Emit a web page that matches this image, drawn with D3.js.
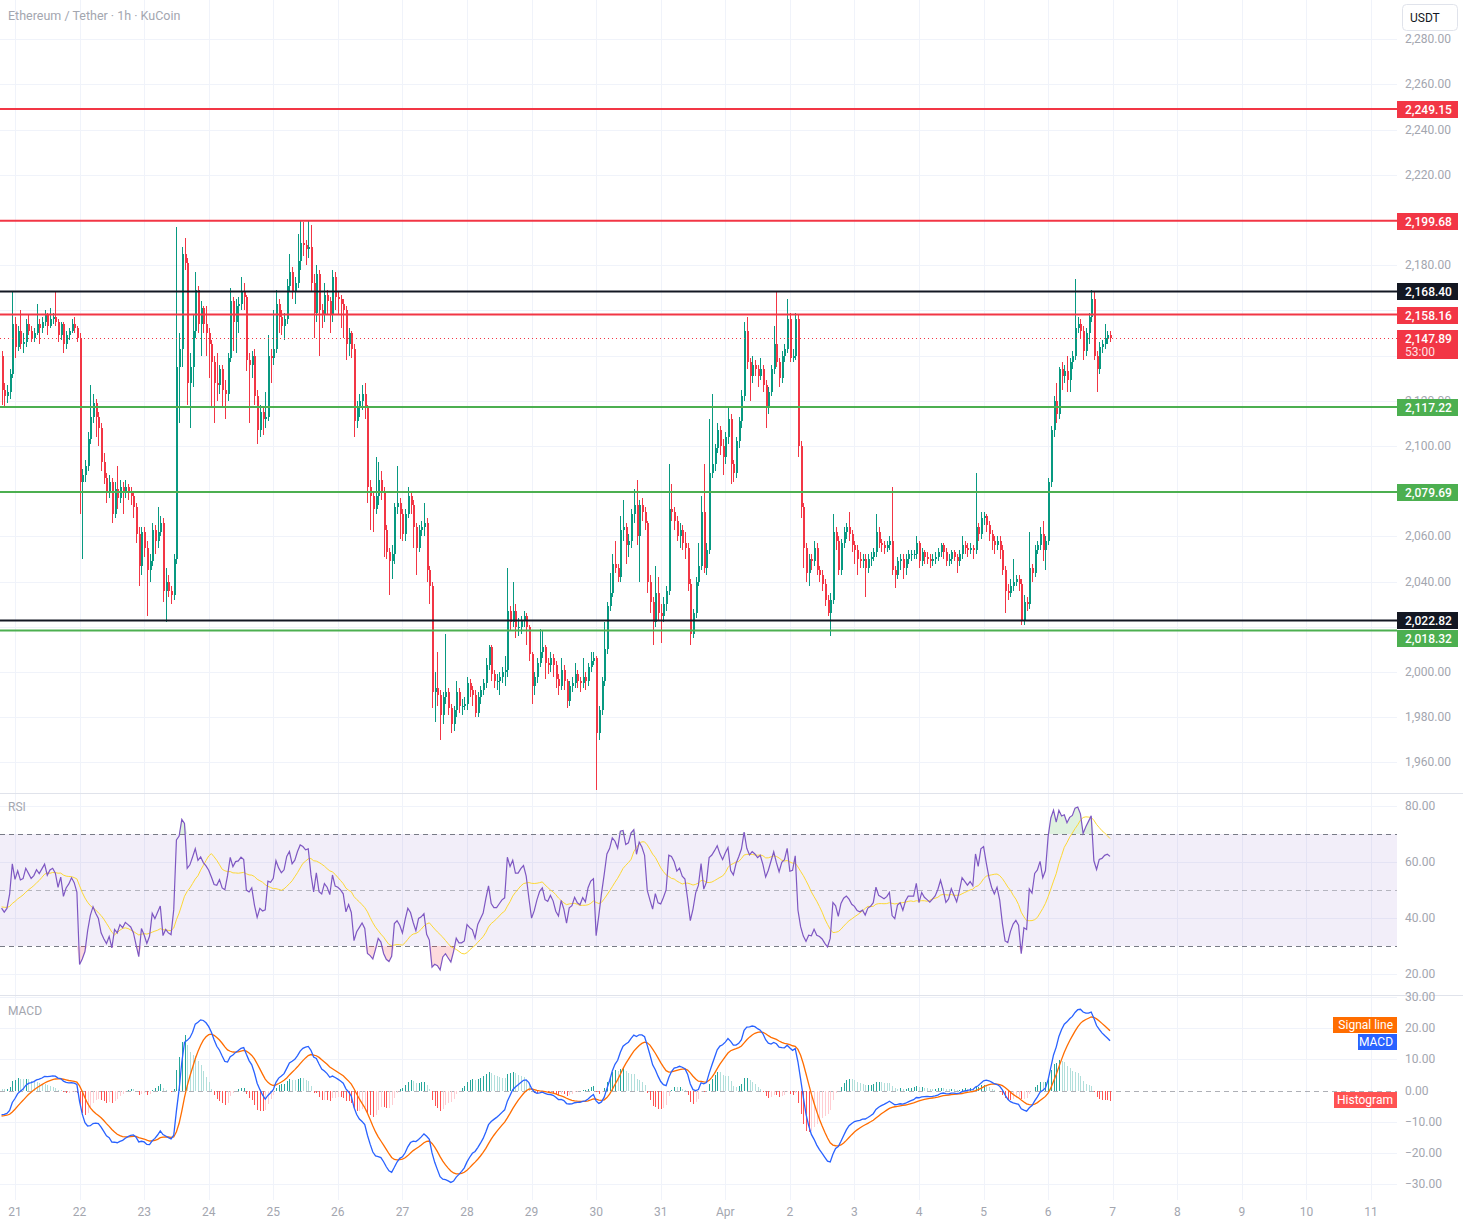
<!DOCTYPE html>
<html lang="en">
<head>
<meta charset="utf-8">
<title>Ethereum / Tether 1h</title>
<script src="https://cdn.jsdelivr.net/npm/d3@7"></script>
<style>
  body { margin: 0; background: #ffffff; }
  svg { display: block; font-family: Roboto, "Noto Sans", "DejaVu Sans", sans-serif; }
</style>
</head>
<body>
<script>
// ---------- data (hourly candles, first one = Mar 20 19:00) ----------
const firstOpen = 2140;
const closes = [
  2125,2122,2124,2132,2154,2144,2151,2145,2146,2154, 2151,2148,2150,2154,2152,2155,2158,2153,2156,2157,
  2155,2149,2154,2145,2149,2151,2154,2152,2148,2084, 2087,2091,2103,2113,2119,2113,2108,2093,2086,2080,
  2084,2070,2081,2077,2082,2079,2082,2080,2078,2073, 2061,2047,2062,2055,2045,2049,2063,2058,2062,2066,
  2036,2040,2036,2034,2050,2135,2143,2185,2181,2128, 2135,2151,2169,2154,2161,2154,2150,2145,2137,2128,
  2127,2134,2125,2123,2139,2164,2155,2162,2163,2168, 2166,2138,2136,2140,2122,2107,2115,2112,2113,2140,
  2139,2143,2163,2157,2153,2156,2171,2177,2168,2172, 2182,2190,2189,2187,2188,2172,2159,2176,2160,2158,
  2167,2164,2158,2175,2166,2165,2163,2160,2145,2150, 2143,2111,2117,2120,2123,2117,2082,2078,2072,2078,
  2085,2080,2063,2053,2049,2052,2073,2075,2070,2061, 2070,2078,2074,2064,2055,2063,2064,2066,2045,2038,
  1991,1993,1990,1981,1989,1991,1984,1977,1983,1991, 1985,1985,1986,1995,1992,1990,1982,1989,1992,1995,
  2003,2011,1999,1996,1996,1998,2000,2001,2027,2022, 2027,2020,2020,2023,2025,2020,2008,1994,1998,2004,
  2009,2011,2004,2003,2006,2003,1997,1994,2001,1996, 1987,1994,1995,1999,1996,1995,1998,1996,2002,2005,
  2006,1973,1983,1996,2010,2029,2035,2048,2046,2042, 2063,2064,2056,2058,2070,2074,2060,2074,2071,2066,
  2040,2031,2022,2035,2026,2025,2030,2036,2072,2071, 2067,2060,2063,2057,2055,2039,2017,2026,2040,2047,
  2071,2046,2054,2088,2092,2099,2107,2100,2095,2104, 2112,2092,2088,2102,2111,2122,2151,2137,2131,2136,
  2134,2131,2134,2127,2117,2124,2134,2145,2137,2130, 2140,2143,2156,2139,2140,2156,2100,2073,2055,2044,
  2050,2049,2055,2045,2043,2039,2032,2026,2032,2062, 2058,2045,2057,2062,2064,2061,2056,2054,2050,2049,
  2050,2046,2050,2051,2053,2062,2057,2056,2055,2056, 2058,2045,2043,2049,2050,2046,2050,2052,2052,2052,
  2057,2049,2053,2051,2050,2049,2050,2051,2053,2056, 2053,2049,2050,2053,2051,2049,2052,2056,2055,2054,
  2055,2054,2064,2061,2068,2069,2065,2061,2058,2056, 2058,2054,2045,2036,2035,2038,2040,2041,2039,2023,
  2031,2030,2046,2044,2054,2056,2061,2054,2058,2084, 2107,2120,2114,2134,2131,2133,2129,2137,2140,2152,
  2154,2151,2142,2150,2157,2165,2140,2134,2144,2145, 2148,2149,2147.89
];
const highs = [
  2142,2128,2127,2134,2168,2157,2153,2160,2150,2156, 2158,2153,2152,2163,2156,2157,2160,2159,2161,2159,
  2168,2156,2155,2155,2151,2152,2156,2157,2153,2150, 2090,2094,2106,2127,2123,2121,2115,2110,2097,2088,
  2087,2086,2084,2091,2085,2084,2085,2083,2082,2080, 2075,2064,2064,2064,2058,2052,2066,2065,2073,2069,
  2068,2046,2043,2038,2052,2197,2150,2188,2192,2183, 2141,2158,2177,2171,2164,2162,2162,2152,2147,2140,
  2141,2136,2136,2129,2141,2170,2166,2165,2166,2175, 2172,2167,2141,2142,2143,2125,2118,2117,2124,2149,
  2143,2160,2169,2165,2160,2159,2174,2185,2179,2175, 2194,2200,2199,2191,2200,2198,2176,2180,2178,2163,
  2172,2169,2166,2178,2177,2168,2167,2165,2162,2152, 2151,2145,2120,2123,2127,2128,2118,2085,2080,2095,
  2093,2089,2082,2065,2055,2056,2075,2091,2077,2072, 2072,2082,2080,2076,2066,2065,2067,2075,2068,2047,
  2040,2000,2009,1992,1991,2017,1993,1986,1985,1996, 1993,1988,1989,1998,1997,1994,1992,1991,1994,1997,
  2006,2012,2012,2001,1999,2000,2002,2007,2046,2029, 2040,2030,2024,2025,2027,2026,2021,2009,2000,2006,
  2019,2018,2012,2006,2009,2008,2005,1999,2006,2003, 1997,1996,1998,2004,2001,1998,2006,2000,2004,2009,
  2009,2007,1985,1998,2022,2031,2044,2052,2058,2048, 2069,2076,2066,2061,2072,2081,2085,2076,2077,2073,
  2067,2043,2033,2047,2042,2030,2033,2038,2092,2083, 2073,2069,2066,2065,2062,2057,2041,2028,2042,2057,
  2078,2092,2057,2112,2123,2101,2110,2109,2103,2106, 2117,2114,2094,2104,2113,2125,2155,2157,2139,2140,
  2138,2136,2139,2136,2129,2126,2136,2153,2168,2139, 2142,2145,2165,2159,2143,2159,2158,2102,2075,2057,
  2052,2052,2058,2057,2047,2045,2041,2034,2035,2070, 2064,2060,2059,2064,2066,2071,2063,2058,2056,2053,
  2052,2052,2052,2053,2055,2070,2064,2059,2058,2058, 2060,2082,2047,2051,2052,2052,2052,2054,2054,2054,
  2060,2058,2055,2054,2053,2052,2052,2053,2055,2057, 2057,2055,2052,2054,2054,2052,2054,2060,2058,2057,
  2057,2056,2088,2066,2071,2071,2070,2067,2063,2060, 2060,2060,2056,2047,2039,2041,2050,2043,2043,2041,
  2034,2033,2062,2048,2056,2058,2064,2067,2060,2086, 2109,2122,2128,2135,2137,2136,2140,2139,2142,2174,
  2157,2156,2153,2152,2159,2169,2168,2142,2146,2147, 2154,2151,2151
];
const lows = [
  2118,2117,2119,2121,2130,2139,2142,2143,2141,2144, 2149,2146,2146,2149,2145,2150,2153,2149,2152,2154,
  2153,2146,2147,2141,2143,2147,2150,2150,2146,2070, 2050,2084,2089,2101,2110,2104,2100,2089,2083,2075,
  2077,2066,2068,2072,2075,2070,2077,2076,2074,2068, 2057,2038,2043,2051,2025,2040,2047,2052,2055,2060,
  2031,2022,2033,2030,2032,2048,2110,2135,2178,2118, 2108,2126,2148,2150,2140,2150,2140,2130,2117,2110,
  2120,2123,2117,2112,2120,2137,2142,2141,2150,2160, 2160,2133,2110,2130,2118,2101,2104,2105,2108,2111,
  2128,2136,2141,2150,2149,2147,2154,2168,2165,2163, 2170,2178,2184,2180,2183,2168,2148,2155,2140,2152,
  2155,2158,2150,2155,2160,2158,2152,2148,2138,2140, 2139,2104,2108,2113,2116,2112,2075,2063,2062,2070,
  2074,2076,2051,2050,2034,2041,2048,2070,2059,2058, 2058,2068,2070,2055,2043,2053,2060,2060,2040,2030,
  1984,1978,1985,1970,1977,1986,1981,1973,1974,1980, 1982,1981,1983,1983,1989,1985,1980,1980,1986,1990,
  1993,2001,1996,1993,1992,1990,1995,1994,1998,2018, 2020,2015,2016,2017,2020,2012,2005,1986,1990,1995,
  2002,2006,1997,1999,2000,1998,1993,1990,1992,1992, 1984,1985,1991,1993,1993,1991,1993,1992,1994,2000,
  2003,1948,1970,1981,1994,2008,2027,2033,2044,2040, 2040,2058,2048,2051,2055,2066,2056,2040,2067,2063,
  2035,2026,2012,2020,2023,2013,2022,2027,2034,2067, 2063,2058,2055,2054,2050,2036,2012,2015,2024,2038,
  2045,2044,2043,2052,2086,2089,2097,2096,2087,2092, 2101,2083,2084,2086,2099,2108,2120,2134,2120,2128,
  2131,2126,2129,2124,2108,2114,2122,2132,2135,2126, 2128,2137,2141,2137,2137,2138,2095,2068,2046,2040,
  2038,2045,2047,2043,2040,2036,2029,2025,2016,2030, 2054,2043,2043,2055,2059,2058,2053,2048,2043,2046,
  2046,2033,2044,2047,2049,2051,2055,2053,2052,2053, 2054,2043,2037,2041,2045,2041,2043,2048,2049,2050,
  2050,2046,2047,2048,2048,2046,2047,2048,2049,2051, 2050,2047,2047,2048,2049,2044,2047,2050,2052,2051,
  2052,2050,2052,2058,2059,2065,2062,2058,2054,2052, 2054,2050,2043,2026,2032,2033,2036,2038,2036,2021,
  2021,2027,2028,2040,2042,2052,2054,2049,2045,2056, 2082,2104,2110,2112,2125,2128,2124,2124,2134,2138,
  2150,2148,2138,2140,2145,2155,2138,2124,2132,2141, 2143,2145,2146
];

// horizontal levels drawn on the chart
const levelPrices = [2249.15, 2199.68, 2168.40, 2158.16, 2117.22, 2079.69, 2022.82, 2018.32];
const levelKinds  = ["red", "red", "black", "red", "green", "green", "black", "green"];

const priceTicks = [1960, 1980, 2000, 2020, 2040, 2060, 2080, 2100, 2120, 2140, 2160, 2180, 2200, 2220, 2240, 2260, 2280];
const rsiTicks = [20, 40, 60, 80];
const macdTicks = [-30, -20, -10, 0, 10, 20, 30];
const dayLabels = ["21","22","23","24","25","26","27","28","29","30","31","Apr","2","3","4","5","6","7","8","9","10","11"];
const countdown = "53:00";

// ---------- layout ----------
const W = 1463, H = 1226;
const plotR = 1397;
const mainTop = 0, mainBot = 793;
const rsiTop = 793, rsiBot = 995;
const macdTop = 995, macdBot = 1200;

const colUp = "#089981", colDn = "#F23645";
const levelColor = { red: "#F23645", black: "#131722", green: "#4CAF50" };
const axisText = "#A3A6AF";
const gridCol = "#F0F3FA";

const hour = 3600e3;
const t0 = Date.UTC(2026, 2, 20, 19);
const opens = closes.map((c, i) => i === 0 ? firstOpen : closes[i - 1]);
const candles = closes.map((c, i) => ({
  t: new Date(t0 + i * hour),
  o: opens[i], c: c,
  h: Math.max(highs[i], opens[i], c),
  l: Math.min(lows[i], opens[i], c)
}));

// ---------- indicators ----------
// RSI 14 (Wilder), seeded from the level read at the left edge
let ag = 3.2, al = 3.0;
const rsi = candles.map(d => {
  const ch = d.c - d.o;
  ag = (ag * 13 + Math.max(ch, 0)) / 14;
  al = (al * 13 + Math.max(-ch, 0)) / 14;
  return 100 - 100 / (1 + ag / al);
});
const rsiSeed = 44;
const rsiMa = rsi.map((v, i) => {
  let s = 0;
  for (let k = i - 13; k <= i; k++) s += k < 0 ? rsiSeed : rsi[k];
  return s / 14;
});

// MACD 12 26 9, seeded from the values at the left edge
let e12 = 2129, e26 = 2137, sig = -8.3;
const macd = [], signal = [], hist = [];
candles.forEach(d => {
  e12 += (2 / 13) * (d.c - e12);
  e26 += (2 / 27) * (d.c - e26);
  const m = e12 - e26;
  sig += 0.2 * (m - sig);
  macd.push(m); signal.push(sig); hist.push(m - sig);
});

// ---------- scales ----------
const x = d3.scaleUtc()
  .domain([new Date(Date.UTC(2026, 2, 21)), new Date(Date.UTC(2026, 3, 11))])
  .range([15, 1371]);
const y = d3.scaleLinear().domain([2000, 2280]).range([672, 39.2]);
const yR = d3.scaleLinear().domain([20, 80]).range([974, 806]);
const yM = d3.scaleLinear().domain([-30, 30]).range([1184, 997]);
const fmt = d3.format(",.2f");

const svg = d3.select("body").append("svg")
  .attr("width", W).attr("height", H);

const defs = svg.append("defs");
[["clipMain", mainTop, mainBot], ["clipRsi", rsiTop, rsiBot], ["clipMacd", macdTop, macdBot]]
  .forEach(([id, a, b]) => {
    defs.append("clipPath").attr("id", id)
      .append("rect").attr("x", 0).attr("y", a).attr("width", plotR).attr("height", b - a);
  });

// ---------- grid ----------
const dayTicks = d3.utcDay.range(new Date(Date.UTC(2026, 2, 21)), new Date(Date.UTC(2026, 3, 11, 1)));
const grid = svg.append("g").attr("shape-rendering", "crispEdges");
grid.selectAll(".vg").data(dayTicks).enter().append("line")
  .attr("x1", d => Math.round(x(d)) + 0.5).attr("x2", d => Math.round(x(d)) + 0.5)
  .attr("y1", 0).attr("y2", macdBot)
  .attr("stroke", gridCol);
grid.selectAll(".hg").data(priceTicks).enter().append("line")
  .attr("x1", 0).attr("x2", plotR)
  .attr("y1", d => Math.round(y(d)) + 0.5).attr("y2", d => Math.round(y(d)) + 0.5)
  .attr("stroke", gridCol);
grid.selectAll(".rg").data(rsiTicks).enter().append("line")
  .attr("x1", 0).attr("x2", plotR)
  .attr("y1", d => Math.round(yR(d)) + 0.5).attr("y2", d => Math.round(yR(d)) + 0.5)
  .attr("stroke", gridCol);
grid.selectAll(".mg").data(macdTicks.filter(d => d !== 0)).enter().append("line")
  .attr("x1", 0).attr("x2", plotR)
  .attr("y1", d => Math.round(yM(d)) + 0.5).attr("y2", d => Math.round(yM(d)) + 0.5)
  .attr("stroke", gridCol);

// pane separators
[rsiTop, macdTop].forEach(v => {
  svg.append("line").attr("x1", 0).attr("x2", W).attr("y1", v + 0.5).attr("y2", v + 0.5)
    .attr("stroke", "#E0E3EB");
});

// ---------- main pane ----------
const main = svg.append("g").attr("clip-path", "url(#clipMain)");

// candles
const cg = main.append("g").attr("shape-rendering", "crispEdges");
cg.selectAll(".wick").data(candles).enter().append("line")
  .attr("x1", d => Math.round(x(d.t)) + 0.5).attr("x2", d => Math.round(x(d.t)) + 0.5)
  .attr("y1", d => y(d.h)).attr("y2", d => y(d.l))
  .attr("stroke", d => d.c >= d.o ? colUp : colDn);
cg.selectAll(".body").data(candles).enter().append("rect")
  .attr("x", d => Math.round(x(d.t)) - 0.5)
  .attr("width", 2)
  .attr("y", d => y(Math.max(d.o, d.c)))
  .attr("height", d => Math.max(1, Math.abs(y(d.o) - y(d.c))))
  .attr("fill", d => d.c >= d.o ? colUp : colDn);

// level lines
main.selectAll(".lvl").data(levelPrices).enter().append("line")
  .attr("x1", 0).attr("x2", plotR)
  .attr("y1", d => y(d)).attr("y2", d => y(d))
  .attr("stroke", (d, i) => levelColor[levelKinds[i]])
  .attr("stroke-width", 2);

// last price line
const last = candles[candles.length - 1];
main.append("line")
  .attr("x1", 0).attr("x2", plotR)
  .attr("y1", Math.round(y(last.c)) + 0.5).attr("y2", Math.round(y(last.c)) + 0.5)
  .attr("stroke", colDn).attr("stroke-dasharray", "1,3");

// title
svg.append("text").attr("x", 8).attr("y", 20)
  .attr("fill", axisText).attr("font-size", 12.5)
  .text("Ethereum / Tether · 1h · KuCoin");

// label boxes on the price scale (pushed apart where they would collide)
const boxes = levelPrices.map((p, i) => ({ p, kind: levelKinds[i], cy: Math.round(y(p)), h: 17 }));
boxes.push({ p: last.c, kind: "last", cy: Math.round(y(last.c)), h: 29 });
boxes.sort((a, b) => a.cy - b.cy);
for (let k = 1; k < boxes.length; k++) {
  const prev = boxes[k - 1], cur = boxes[k];
  const minCy = prev.cy - 8 + prev.h + 9;
  if (cur.cy < minCy) cur.cy = minCy;
}

// price axis labels, skipping those fully hidden under a box
const hidden = v => boxes.some(b => y(v) > b.cy - 8 + 3 && y(v) < b.cy - 8 + b.h);
svg.selectAll(".pt").data(priceTicks.filter(d => y(d) > 30 && !hidden(d))).enter().append("text")
  .attr("x", 1405).attr("y", d => y(d) + 4)
  .attr("fill", axisText).attr("font-size", 12)
  .text(d => fmt(d));

// USDT box
svg.append("rect").attr("x", 1402.5).attr("y", 4.5).attr("width", 55).attr("height", 26).attr("rx", 4)
  .attr("fill", "#fff").attr("stroke", "#E0E3EB");
svg.append("text").attr("x", 1410).attr("y", 22).attr("fill", "#131722").attr("font-size", 12).text("USDT");

const lblG = svg.append("g");
boxes.forEach(b => {
  const col = b.kind === "last" ? colDn : levelColor[b.kind];
  lblG.append("rect").attr("x", 1397).attr("y", b.cy - 8).attr("width", 61).attr("height", b.h)
    .attr("fill", col);
  lblG.append("text").attr("x", 1405).attr("y", b.cy + 4.5)
    .attr("fill", "#fff").attr("font-size", 12).attr("font-weight", 500)
    .text(fmt(b.p));
  if (b.kind === "last") {
    lblG.append("text").attr("x", 1405).attr("y", b.cy + 17.5)
      .attr("fill", "#FFE0E3").attr("font-size", 12).text(countdown);
  }
});

// ---------- RSI pane ----------
const rp = svg.append("g").attr("clip-path", "url(#clipRsi)");
rp.append("rect").attr("x", 0).attr("width", plotR)
  .attr("y", yR(70)).attr("height", yR(30) - yR(70))
  .attr("fill", "rgba(126, 87, 194, 0.1)");
[[70, "#787B86", "5,4"], [50, "rgba(120,123,134,0.5)", "5,4"], [30, "#787B86", "5,4"]].forEach(([v, c, dash]) => {
  rp.append("line").attr("x1", 0).attr("x2", plotR)
    .attr("y1", Math.round(yR(v)) + 0.5).attr("y2", Math.round(yR(v)) + 0.5)
    .attr("stroke", c).attr("stroke-dasharray", dash);
});
const rsiPts = candles.map((d, i) => ({ t: d.t, v: rsi[i], m: rsiMa[i] }));
rp.append("path").datum(rsiPts)
  .attr("fill", "rgba(76, 175, 80, 0.18)")
  .attr("d", d3.area().x(d => x(d.t)).y0(yR(70)).y1(d => yR(Math.max(d.v, 70))));
rp.append("path").datum(rsiPts)
  .attr("fill", "rgba(242, 54, 69, 0.18)")
  .attr("d", d3.area().x(d => x(d.t)).y0(yR(30)).y1(d => yR(Math.min(d.v, 30))));
rp.append("path").datum(rsiPts)
  .attr("fill", "none").attr("stroke", "#FDD835").attr("stroke-width", 1)
  .attr("d", d3.line().x(d => x(d.t)).y(d => yR(d.m)));
rp.append("path").datum(rsiPts)
  .attr("fill", "none").attr("stroke", "#7E57C2").attr("stroke-width", 1.2)
  .attr("d", d3.line().x(d => x(d.t)).y(d => yR(d.v)));

svg.append("text").attr("x", 8).attr("y", 811).attr("fill", axisText).attr("font-size", 12).text("RSI");
svg.selectAll(".rt").data(rsiTicks).enter().append("text")
  .attr("x", 1405).attr("y", d => yR(d) + 4)
  .attr("fill", axisText).attr("font-size", 12).text(d => fmt(d));

// ---------- MACD pane ----------
const mp = svg.append("g").attr("clip-path", "url(#clipMacd)");
mp.append("line").attr("x1", 0).attr("x2", plotR)
  .attr("y1", Math.round(yM(0)) + 0.5).attr("y2", Math.round(yM(0)) + 0.5)
  .attr("stroke", "rgba(120,123,134,0.6)").attr("stroke-dasharray", "5,4");
const histData = candles.map((d, i) => ({ t: d.t, h: hist[i], p: i ? hist[i - 1] : hist[i] }));
mp.append("g").attr("shape-rendering", "crispEdges")
  .selectAll("line").data(histData).enter().append("line")
  .attr("x1", d => Math.round(x(d.t)) + 0.5).attr("x2", d => Math.round(x(d.t)) + 0.5)
  .attr("y1", yM(0)).attr("y2", d => yM(d.h))
  .attr("stroke", d => d.h >= 0 ? (d.h > d.p ? "#26A69A" : "#B2DFDB") : (d.h < d.p ? "#FF5252" : "#FFCDD2"));
const macdPts = candles.map((d, i) => ({ t: d.t, m: macd[i], s: signal[i] }));
mp.append("path").datum(macdPts)
  .attr("fill", "none").attr("stroke", "#FF6D00").attr("stroke-width", 1.3)
  .attr("d", d3.line().x(d => x(d.t)).y(d => yM(d.s)));
mp.append("path").datum(macdPts)
  .attr("fill", "none").attr("stroke", "#2962FF").attr("stroke-width", 1.3)
  .attr("d", d3.line().x(d => x(d.t)).y(d => yM(d.m)));

svg.append("text").attr("x", 8).attr("y", 1015).attr("fill", axisText).attr("font-size", 12).text("MACD");
svg.selectAll(".mt").data(macdTicks).enter().append("text")
  .attr("x", 1405).attr("y", d => yM(d) + 4)
  .attr("fill", axisText).attr("font-size", 12)
  .text(d => (d < 0 ? "\u2212" + fmt(-d) : fmt(d)));

// legend tags at the right edge of the pane
[["Signal line", "#FF6D00", 1017, 64], ["MACD", "#2962FF", 1034, 39], ["Histogram", "#FF5252", 1092, 63]]
  .forEach(([txt, col, top, w]) => {
    svg.append("rect").attr("x", plotR - w).attr("y", top).attr("width", w).attr("height", 16).attr("fill", col);
    svg.append("text").attr("x", plotR - 4).attr("y", top + 12).attr("text-anchor", "end")
      .attr("fill", "#fff").attr("font-size", 12).text(txt);
  });

// ---------- time axis ----------
svg.selectAll(".tl").data(dayTicks).enter().append("text")
  .attr("x", d => x(d)).attr("y", 1216).attr("text-anchor", "middle")
  .attr("fill", axisText).attr("font-size", 12)
  .text((d, i) => dayLabels[i]);
</script>
</body>
</html>
